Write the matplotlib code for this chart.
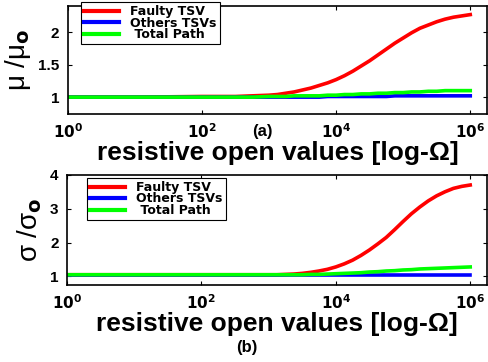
import numpy as np
import matplotlib
matplotlib.use('Agg')
import matplotlib.pyplot as plt

# x positions as log10 of the resistive open value
log_r = [0, 1, 2, 2.5, 2.75, 3, 3.125, 3.25, 3.375, 3.5, 3.625, 3.75, 3.875, 4,
         4.125, 4.25, 4.375, 4.5, 4.625, 4.75, 4.875, 5, 5.125, 5.25, 5.375,
         5.5, 5.625, 5.75, 5.875, 6]

# (a) mean ratio
mu_faulty = [1.0, 1.0, 1.01, 1.01, 1.02, 1.03, 1.04, 1.06, 1.08, 1.11, 1.14, 1.18,
             1.22, 1.27, 1.33, 1.40, 1.48, 1.56, 1.65, 1.74, 1.83, 1.91, 1.99,
             2.06, 2.11, 2.16, 2.20, 2.23, 2.25, 2.27]
mu_others = [1.0, 1.0, 1.0, 1.0, 1.0, 1.0, 1.0, 1.0, 1.0, 1.0, 1.0, 1.0, 1.01,
             1.01, 1.01, 1.01, 1.01, 1.01, 1.01, 1.01, 1.02, 1.02, 1.02, 1.02,
             1.02, 1.02, 1.02, 1.02, 1.02, 1.02]
mu_total = [1.0, 1.0, 1.0, 1.0, 1.0, 1.01, 1.01, 1.01, 1.02, 1.02, 1.02, 1.02,
            1.03, 1.03, 1.04, 1.04, 1.05, 1.05, 1.06, 1.06, 1.07, 1.07, 1.08,
            1.08, 1.09, 1.09, 1.10, 1.10, 1.10, 1.10]

# (b) sigma ratio
sig_faulty = [1.05, 1.05, 1.05, 1.05, 1.05, 1.05, 1.05, 1.06, 1.07, 1.09, 1.12,
              1.16, 1.21, 1.28, 1.37, 1.48, 1.62, 1.78, 1.96, 2.15, 2.38, 2.62,
              2.85, 3.05, 3.23, 3.38, 3.50, 3.60, 3.66, 3.70]
sig_others = [1.03] * 30
sig_total = [1.05, 1.05, 1.05, 1.05, 1.05, 1.05, 1.05, 1.05, 1.05, 1.05, 1.06,
             1.06, 1.07, 1.08, 1.09, 1.10, 1.11, 1.13, 1.14, 1.16, 1.17, 1.19,
             1.20, 1.22, 1.23, 1.24, 1.25, 1.26, 1.27, 1.28]

labels = ['Faulty TSV', 'Others TSVs', ' Total Path']
colors = ['#ff0000', '#0000ff', '#00ff00']

plt.rcParams['font.family'] = ['Liberation Sans', 'DejaVu Sans']
plt.rcParams['font.weight'] = 'bold'

fig = plt.figure(figsize=(4.88, 3.62), dpi=100)
ax1 = fig.add_axes([0.139, 0.685, 0.859, 0.298])
ax2 = fig.add_axes([0.137, 0.213, 0.861, 0.304])

x = 10.0 ** np.array(log_r)


def style(ax, ylim, yticks, yticklabels):
    ax.set_xscale('log')
    ax.set_xlim(1, 10 ** 6.25)
    ax.set_ylim(*ylim)
    ax.set_xticks([1, 1e2, 1e4, 1e6])
    ax.set_xticks([], minor=True)
    ax.set_xticklabels([r'$\mathbf{10^{0}}$', r'$\mathbf{10^{2}}$',
                        r'$\mathbf{10^{4}}$', r'$\mathbf{10^{6}}$'])
    ax.set_yticks(yticks)
    ax.set_yticklabels(yticklabels)
    ax.tick_params(direction='in', top=True, right=True, length=3,
                   labelsize=11, pad=6, width=0.8)
    for s in ax.spines.values():
        s.set_linewidth(1.2)
    ax.set_xlabel('resistive open values [log-Ω]', fontsize=19,
                  fontweight='bold', labelpad=0)


def add_legend(ax, anchor):
    leg = ax.legend(loc='upper left', bbox_to_anchor=anchor,
                    prop={'family': 'DejaVu Sans', 'weight': 'bold', 'size': 9},
                    handlelength=2.8, fancybox=False, edgecolor='black',
                    borderpad=0.25, labelspacing=-0.12, handletextpad=0.9,
                    borderaxespad=0, framealpha=1)
    leg.get_frame().set_linewidth(0.8)
    for line in leg.get_lines():
        line.set_linewidth(3)
    return leg


for vals, c, lab in zip([mu_faulty, mu_others, mu_total], colors, labels):
    ax1.plot(x, vals, color=c, lw=2.6, label=lab, solid_joinstyle='round')
style(ax1, (0.74, 2.4), [1, 1.5, 2], ['1', '1.5', '2'])
ax1.set_ylabel('μ /μ' + r'$_{\mathbf{o}}$', fontsize=20, fontweight='normal',
               labelpad=4)
add_legend(ax1, (0.031, 1.037))
ax1.text(0.465, -0.09, '(a)', transform=ax1.transAxes, fontsize=12,
         fontweight='bold', ha='center', va='top')

for vals, c, lab in zip([sig_faulty, sig_others, sig_total], colors, labels):
    ax2.plot(x, vals, color=c, lw=2.6, label=lab, solid_joinstyle='round')
style(ax2, (0.75, 4.0), [1, 2, 3, 4], ['1', '2', '3', '4'])
ax2.set_ylabel('σ /σ' + r'$_{\mathbf{o}}$', fontsize=20, fontweight='normal',
               labelpad=4)
add_legend(ax2, (0.048, 0.973))
fig.text(0.505, 0.02, '(b)', fontsize=12, fontweight='bold', ha='center',
         va='bottom')

fig.savefig('out.png', dpi=100)
